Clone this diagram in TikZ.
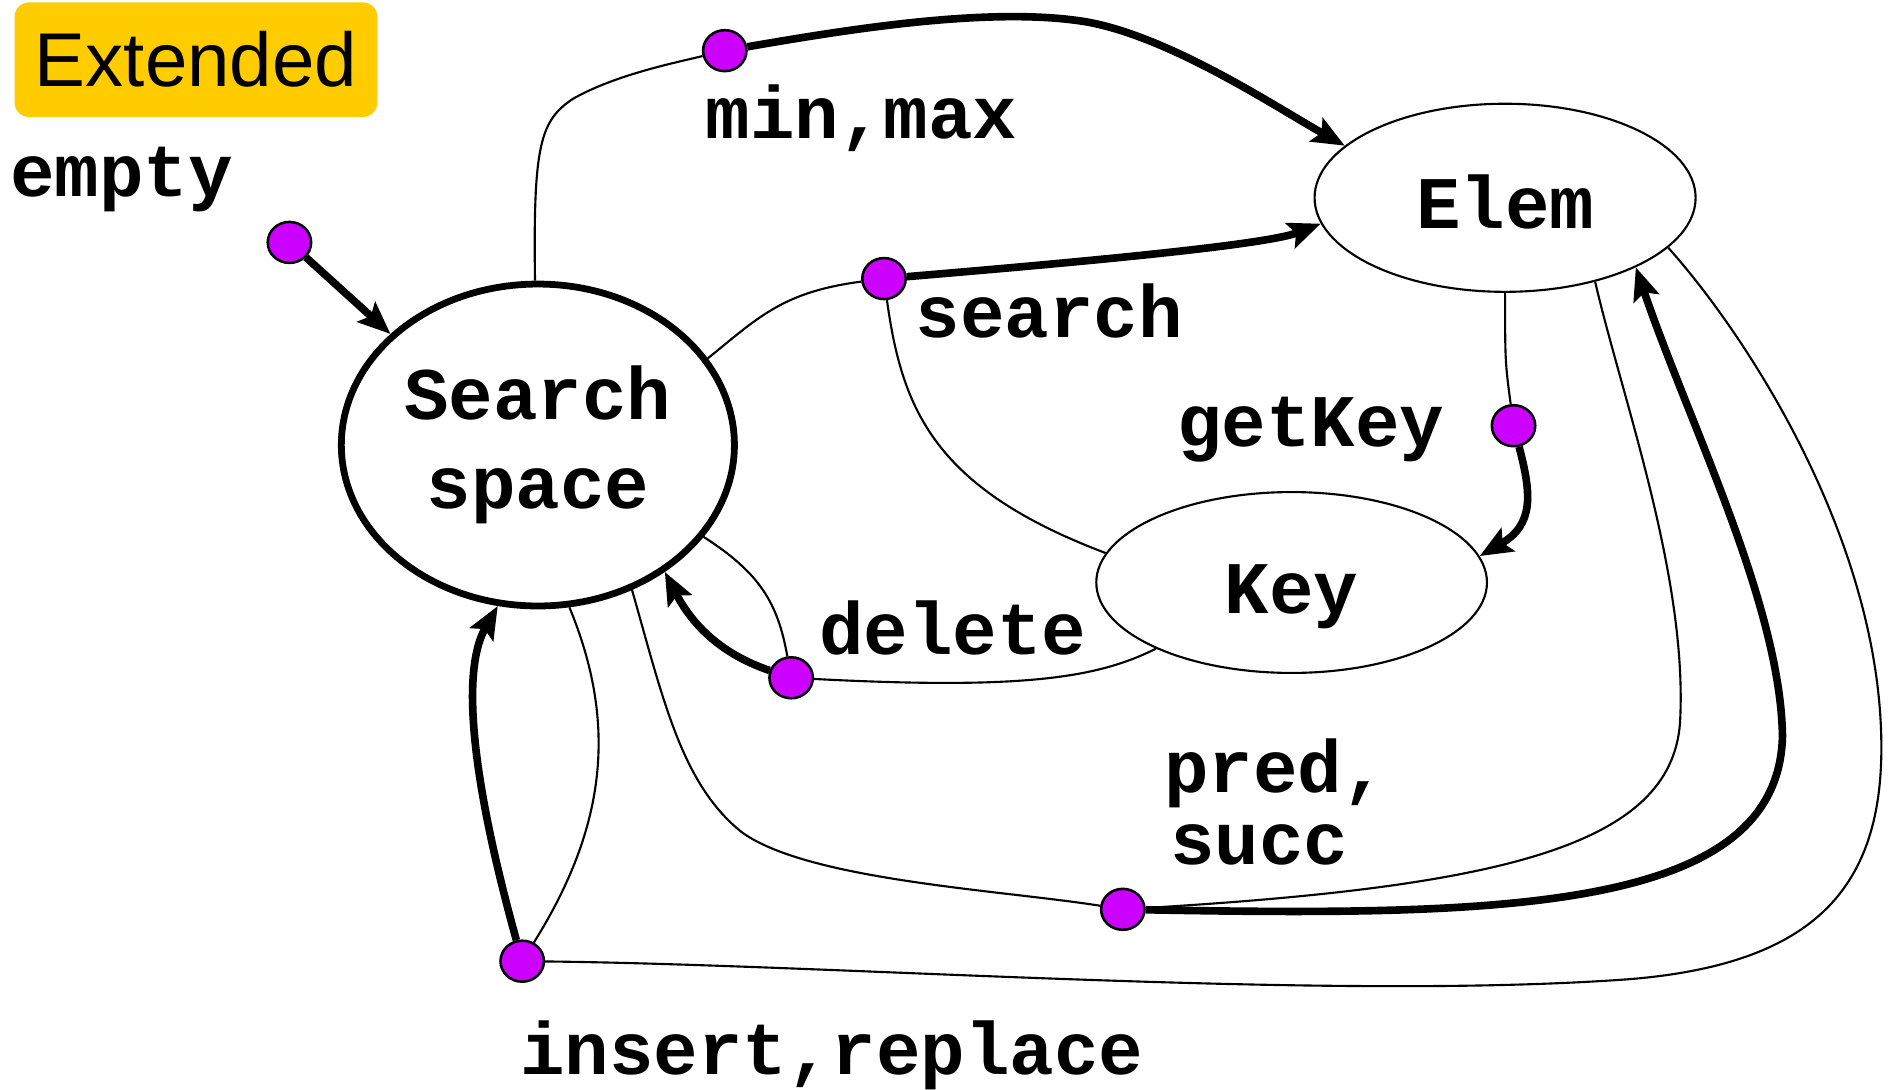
\documentclass[tikz,border=0pt]{standalone}
\usepackage{fontspec}
\setmainfont{Liberation Sans}
\newfontfamily\codefont{Liberation Mono}
\usetikzlibrary{shapes.geometric,arrows.meta}
\definecolor{tagyellow}{HTML}{FFCC00}
\definecolor{oppurple}{HTML}{CC00FF}
\tikzstyle{call}=[
        line width=3.6pt,
        -{Stealth[length=0.54cm,width=0.44cm,inset=0.1cm]}
]
\tikzstyle{uses}=[
        line width=1pt
]
\tikzstyle{sort}=[
        ellipse,
        draw,
        line width=1pt,
        inner sep=0pt,
        font=\codefont\bfseries\fontsize{35}{42}\selectfont
]
\tikzstyle{op}=[
        ellipse,
        draw,
        fill=oppurple,
        line width=1.2pt,
        inner sep=0pt,
        minimum width=0.72cm,
        minimum height=0.68cm
]
\tikzstyle{opname}=[
        anchor=base west,
        inner sep=0pt,
        font=\codefont\bfseries\fontsize{35}{42}\selectfont
]

\begin{document}
\begin{tikzpicture}[x=0.02cm,y=-0.02cm]
    \useasboundingbox (0,0) rectangle (1568,903);

    \node[fill=tagyellow, rounded corners=0.24cm, minimum width=6.02cm,
          minimum height=1.9cm, font=\fontsize{36}{43}\selectfont] (ext) at (162.5,49.5) {Extended};

    \node[sort, line width=3.2pt, minimum width=6.52cm, minimum height=5.34cm,
          align=center] (ss) at (446,369) {Search\\space};
    \node[sort, minimum width=6.32cm, minimum height=3.12cm,
          text height=29pt, text depth=0pt] (elem) at (1248,164) {Elem};
    \node[sort, minimum width=6.48cm, minimum height=3cm,
          text height=37pt, text depth=7.5pt] (key) at (1071,483) {Key};

    \node[op] (dEmpty) at (240,201) {};
    \node[op] (dMinmax) at (601,42) {};
    \node[op] (dSearch) at (733,231) {};
    \node[op] (dGetkey) at (1255,353) {};
    \node[op] (dDelete) at (656,562) {};
    \node[op] (dPred) at (931,754) {};
    \node[op] (dInsert) at (433,797) {};

    \node[opname] (tEmpty) at (8,163) {empty};
    \node[opname] (tMinmax) at (585,115) {min,max};
    \node[opname] (tSearch) at (759,280) {search};
    \node[opname] (tGetkey) at (976,370) {getKey};
    \node[opname] (tDelete) at (679,543) {delete};
    \node[opname] (tPred) at (965,657) {pred,};
    \node[opname] (tSucc) at (970,717) {succ};
    \node[opname] (tInsert) at (431,891) {insert,replace};

    % empty
    \draw[call] (dEmpty) -- (ss.143);

    % min,max
    \draw[uses] (ss.91) .. controls (442,120) and (448,100) .. (475,82)
        .. controls (510,62) and (560,52) .. (dMinmax);
    \draw[call] (dMinmax) .. controls (700,25) and (820,5) .. (900,18)
        .. controls (970,30) and (1060,90) .. (elem.162);

    % search
    \draw[uses] (ss.27) .. controls (630,262) and (650,242) .. (dSearch);
    \draw[uses] (dSearch) .. controls (748,340) and (775,405) .. (key.171);
    \draw[call] (dSearch) .. controls (900,217) and (1050,203) .. (elem.188);

    % getKey
    \draw[uses] (elem.south) .. controls (1248,300) .. (dGetkey);
    \draw[call] (dGetkey) .. controls (1270,410) and (1272,435) .. (key.8);

    % delete
    \draw[uses] (ss.-29) .. controls (630,475) and (645,500) .. (dDelete);
    \draw[uses] (key.206) .. controls (910,562) and (850,572) .. (dDelete);
    \draw[call] (dDelete) .. controls (600,543) and (575,520) .. (ss.-45);

    % pred, succ
    \draw[uses] (ss.-57) .. controls (550,580) and (565,650) .. (615,690)
        .. controls (670,730) and (830,738) .. (dPred);
    \draw[uses] (elem.-43) .. controls (1345,330) and (1400,480) .. (1393,600)
        .. controls (1385,700) and (1250,735) .. (dPred);
    \draw[call] (dPred) .. controls (1250,760) and (1475,755) .. (1478,610)
        .. controls (1476,500) and (1400,350) .. (elem.-28);

    % insert, replace
    \draw[uses] (ss.-79) .. controls (512,600) and (503,685) .. (dInsert);
    \draw[call] (dInsert) .. controls (395,660) and (380,560) .. (ss.-104);
    \draw[uses] (dInsert) .. controls (700,800) and (1100,830) .. (1350,812)
        .. controls (1500,800) and (1560,740) .. (1560,620)
        .. controls (1560,450) and (1450,280) .. (elem.-17);
\end{tikzpicture}
\end{document}
